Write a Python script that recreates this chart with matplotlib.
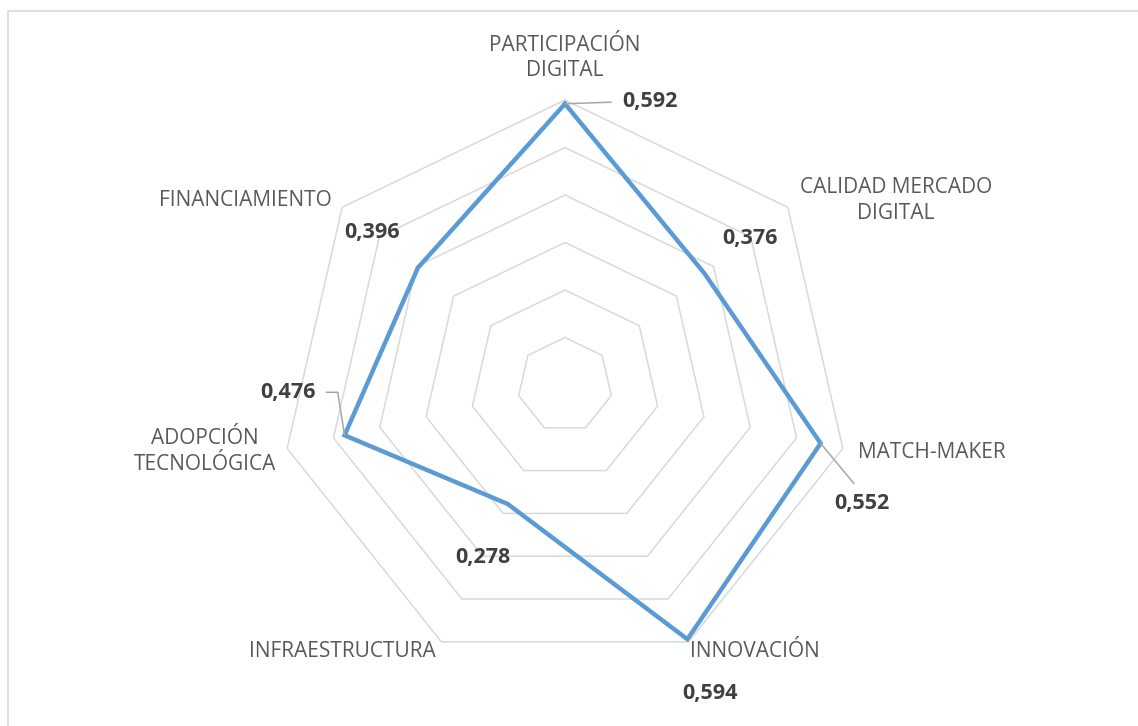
import numpy as np
import matplotlib
matplotlib.use("Agg")
import matplotlib.pyplot as plt
from matplotlib.patches import Rectangle

# data
categories = ["PARTICIPACIÓN\nDIGITAL", "CALIDAD MERCADO\nDIGITAL", "MATCH-MAKER",
              "INNOVACIÓN", "INFRAESTRUCTURA", "ADOPCIÓN\nTECNOLÓGICA", "FINANCIAMIENTO"]
values = [0.592, 0.376, 0.552, 0.594, 0.278, 0.476, 0.396]
value_labels = ["0,592", "0,376", "0,552", "0,594", "0,278", "0,476", "0,396"]
rings = [0.1, 0.2, 0.3, 0.4, 0.5, 0.6]

# label offsets in pixels (from outer vertex / from data vertex)
cat_offsets = [(0, 42), (108, 7), (89, -4), (66, -10), (-99, -10), (-82, -3), (-97, 7)]
val_offsets = [(85, 2), (45, 35), (41, -60), (23, -54), (-25, -54), (-57, 43), (-46, 35)]

plt.rcParams['font.family'] = ['Open Sans', 'DejaVu Sans']

W, H = 1138, 726
cx, cy, scale = 565, 385, 285 / 0.6
fig = plt.figure(figsize=(W / 100, H / 100), dpi=100)
ax = fig.add_axes([0, 0, 1, 1])
ax.set_xlim(-cx / scale, (W - cx) / scale)
ax.set_ylim((cy - H) / scale, cy / scale)
ax.set_aspect('equal')
ax.axis('off')

n = len(categories)
ang = np.arange(n) * 2 * np.pi / n
ux, uy = np.sin(ang), np.cos(ang)

# heptagon grid
for r in rings:
    ax.plot(np.append(r * ux, r * ux[0]), np.append(r * uy, r * uy[0]),
            color='#D9D9D9', lw=1.1, zorder=1)

# data series
v = np.array(values)
ax.plot(np.append(v * ux, v[0] * ux[0]), np.append(v * uy, v[0] * uy[0]),
        color='#5B9BD5', lw=3.2, solid_joinstyle='miter', zorder=3)

rmax = rings[-1]
for i in range(n):
    ax.annotate(categories[i], (rmax * ux[i], rmax * uy[i]), xytext=cat_offsets[i],
                textcoords='offset pixels', ha='center', va='center',
                fontsize=15, color='#595959', linespacing=1.3)

leaders = {0: dict(relpos=(0, 0.5)), 2: dict(relpos=(0.5, 1)),
           5: dict(relpos=(1, 0.5), connectionstyle='angle,angleA=0,angleB=99,rad=0')}
for i in range(n):
    arrow = None
    if i in leaders:
        arrow = dict(arrowstyle='-', color='#A6A6A6', lw=1.1, shrinkA=6, shrinkB=0)
        arrow.update(leaders[i])
    ax.annotate(value_labels[i], (v[i] * ux[i], v[i] * uy[i]), xytext=val_offsets[i],
                textcoords='offset pixels', ha='center', va='center',
                fontsize=15.5, fontweight='bold', color='#404040',
                arrowprops=arrow, zorder=4)

# chart border (only top and left visible)
fig.patches.append(Rectangle((8 / W, -0.1), 1.2, (H - 11) / H + 0.1, transform=fig.transFigure,
                             fill=False, edgecolor='#D9D9D9', lw=1.2))

fig.savefig("out.png", dpi=100, facecolor='white')
